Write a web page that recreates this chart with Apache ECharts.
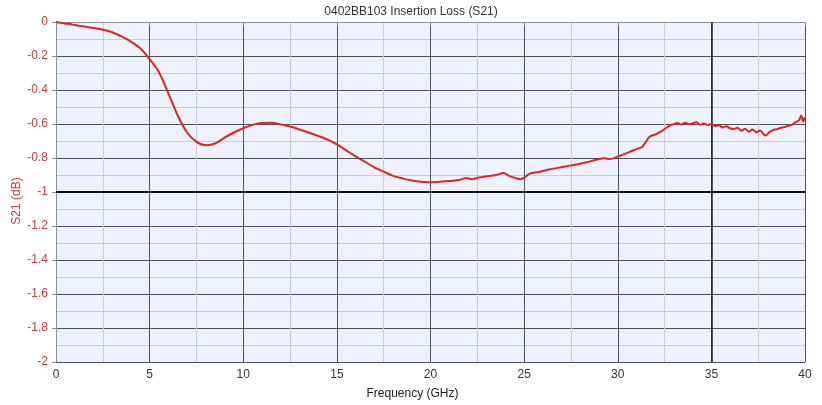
<!DOCTYPE html>
<html>
<head>
<meta charset="utf-8">
<script src="https://cdn.jsdelivr.net/npm/echarts@6/dist/echarts.min.js"></script>
<style>html,body{margin:0;padding:0;background:#fff}#c{width:822px;height:405px}</style>
</head>
<body>
<div id="c"></div>
<script>
const titleText = "0402BB103 Insertion Loss (S21)";
const xName = "Frequency (GHz)";
const yName = "S21 (dB)";
const freq = [0,0.25,0.5,0.75,1,1.5,2,2.5,3,3.5,4,4.5,5,5.5,6,6.5,7,7.5,8,8.5,9,9.5,10,10.5,11,11.5,12,12.5,13,13.5,14,14.5,15,15.5,16,16.5,17,17.5,18,18.5,19,19.5,20,20.5,21,21.5,21.9,22.2,22.6,23,23.5,23.9,24.2,24.6,24.8,25,25.3,25.8,26.3,26.8,27.3,27.8,28.3,28.8,29.3,29.6,30,30.5,31,31.3,31.5,31.7,32,32.3,32.6,32.8,33,33.2,33.4,33.6,33.8,34,34.2,34.4,34.6,34.8,35,35.2,35.4,35.6,35.8,36,36.2,36.4,36.6,36.8,37,37.2,37.4,37.6,37.75,37.9,38.1,38.3,38.5,38.7,38.9,39.1,39.3,39.45,39.6,39.7,39.8,39.9,40];
const s21 = [0,-0.005,-0.01,-0.012,-0.018,-0.027,-0.035,-0.045,-0.06,-0.085,-0.115,-0.155,-0.218,-0.295,-0.42,-0.55,-0.65,-0.705,-0.725,-0.715,-0.68,-0.65,-0.625,-0.605,-0.594,-0.593,-0.603,-0.615,-0.632,-0.65,-0.67,-0.692,-0.72,-0.755,-0.79,-0.822,-0.855,-0.88,-0.905,-0.92,-0.932,-0.94,-0.943,-0.94,-0.936,-0.93,-0.917,-0.925,-0.914,-0.908,-0.9,-0.888,-0.905,-0.92,-0.925,-0.915,-0.892,-0.882,-0.868,-0.858,-0.848,-0.838,-0.826,-0.812,-0.802,-0.806,-0.792,-0.77,-0.748,-0.735,-0.705,-0.675,-0.662,-0.645,-0.622,-0.608,-0.6,-0.594,-0.603,-0.592,-0.601,-0.596,-0.59,-0.604,-0.597,-0.606,-0.6,-0.612,-0.608,-0.62,-0.613,-0.625,-0.63,-0.622,-0.64,-0.628,-0.645,-0.633,-0.648,-0.638,-0.655,-0.668,-0.648,-0.635,-0.63,-0.622,-0.618,-0.61,-0.605,-0.592,-0.584,-0.575,-0.55,-0.585,-0.56,-0.57];
const xTicks = {min:0, max:40, interval:5};
const yTicks = {min:-2, max:0, interval:0.2};

const chart = echarts.init(document.getElementById('c'), null, {renderer:'canvas'});
chart.setOption({
  animation:false,
  backgroundColor:'#ffffff',
  title:{text:titleText, left:'center', top:1, textStyle:{fontFamily:'Liberation Sans, Arial', fontSize:12, fontWeight:'normal', color:'#333'}},
  grid:{left:56, right:17, top:22, bottom:43, show:true, backgroundColor:'#eef2fc', borderWidth:0, containLabel:false, outerBoundsMode:'none'},
  xAxis:{type:'value', min:xTicks.min, max:xTicks.max, interval:xTicks.interval,
    name:xName, nameLocation:'middle', nameGap:26, nameMoveOverlap:false,
    nameTextStyle:{fontFamily:'Liberation Sans, Arial', fontSize:12, color:'#222', padding:[0,36,0,0]},
    axisLine:{show:true, lineStyle:{color:'#8a8f99', width:1}},
    axisTick:{show:true, length:4, lineStyle:{color:'#8a8f99'}},
    axisLabel:{fontFamily:'Liberation Sans, Arial', fontSize:12, color:'#333', margin:7},
    splitLine:{show:true, lineStyle:{color:'#4a505c', width:1}},
    minorTick:{show:false, splitNumber:2},
    minorSplitLine:{show:true, lineStyle:{color:'#c6ccda', width:1}}
  },
  yAxis:{type:'value', min:yTicks.min, max:yTicks.max, interval:yTicks.interval,
    name:yName, nameLocation:'middle', nameGap:33, nameRotate:90, nameMoveOverlap:false,
    nameTextStyle:{fontFamily:'Liberation Sans, Arial', fontSize:12, color:'#c83c3c', padding:[0,0,0,-18]},
    axisLine:{show:true, lineStyle:{color:'#8a8f99', width:1}},
    axisTick:{show:true, length:4, lineStyle:{color:'#8a8f99'}},
    axisLabel:{fontFamily:'Liberation Sans, Arial', fontSize:12, color:'#c83c3c', margin:8,
      formatter:function(v){return String(Math.round(v*10)/10);}},
    splitLine:{show:true, lineStyle:{color:'#4a505c', width:1}},
    minorTick:{show:false, splitNumber:2},
    minorSplitLine:{show:true, lineStyle:{color:'#c6ccda', width:1}}
  },
  series:[{
    type:'line', showSymbol:false, symbol:'none', smooth:0.3,
    data: freq.map((f,i)=>[f, s21[i]]),
    lineStyle:{color:'#e02424', width:2},
    markLine:{silent:true, symbol:'none', label:{show:false},
      data:[{yAxis:-1, lineStyle:{color:'#111', width:2, type:'solid'}},
            {xAxis:35, lineStyle:{color:'#222', width:1.5, type:'solid'}}]},
    z:5
  }]
});
</script>
</body>
</html>
